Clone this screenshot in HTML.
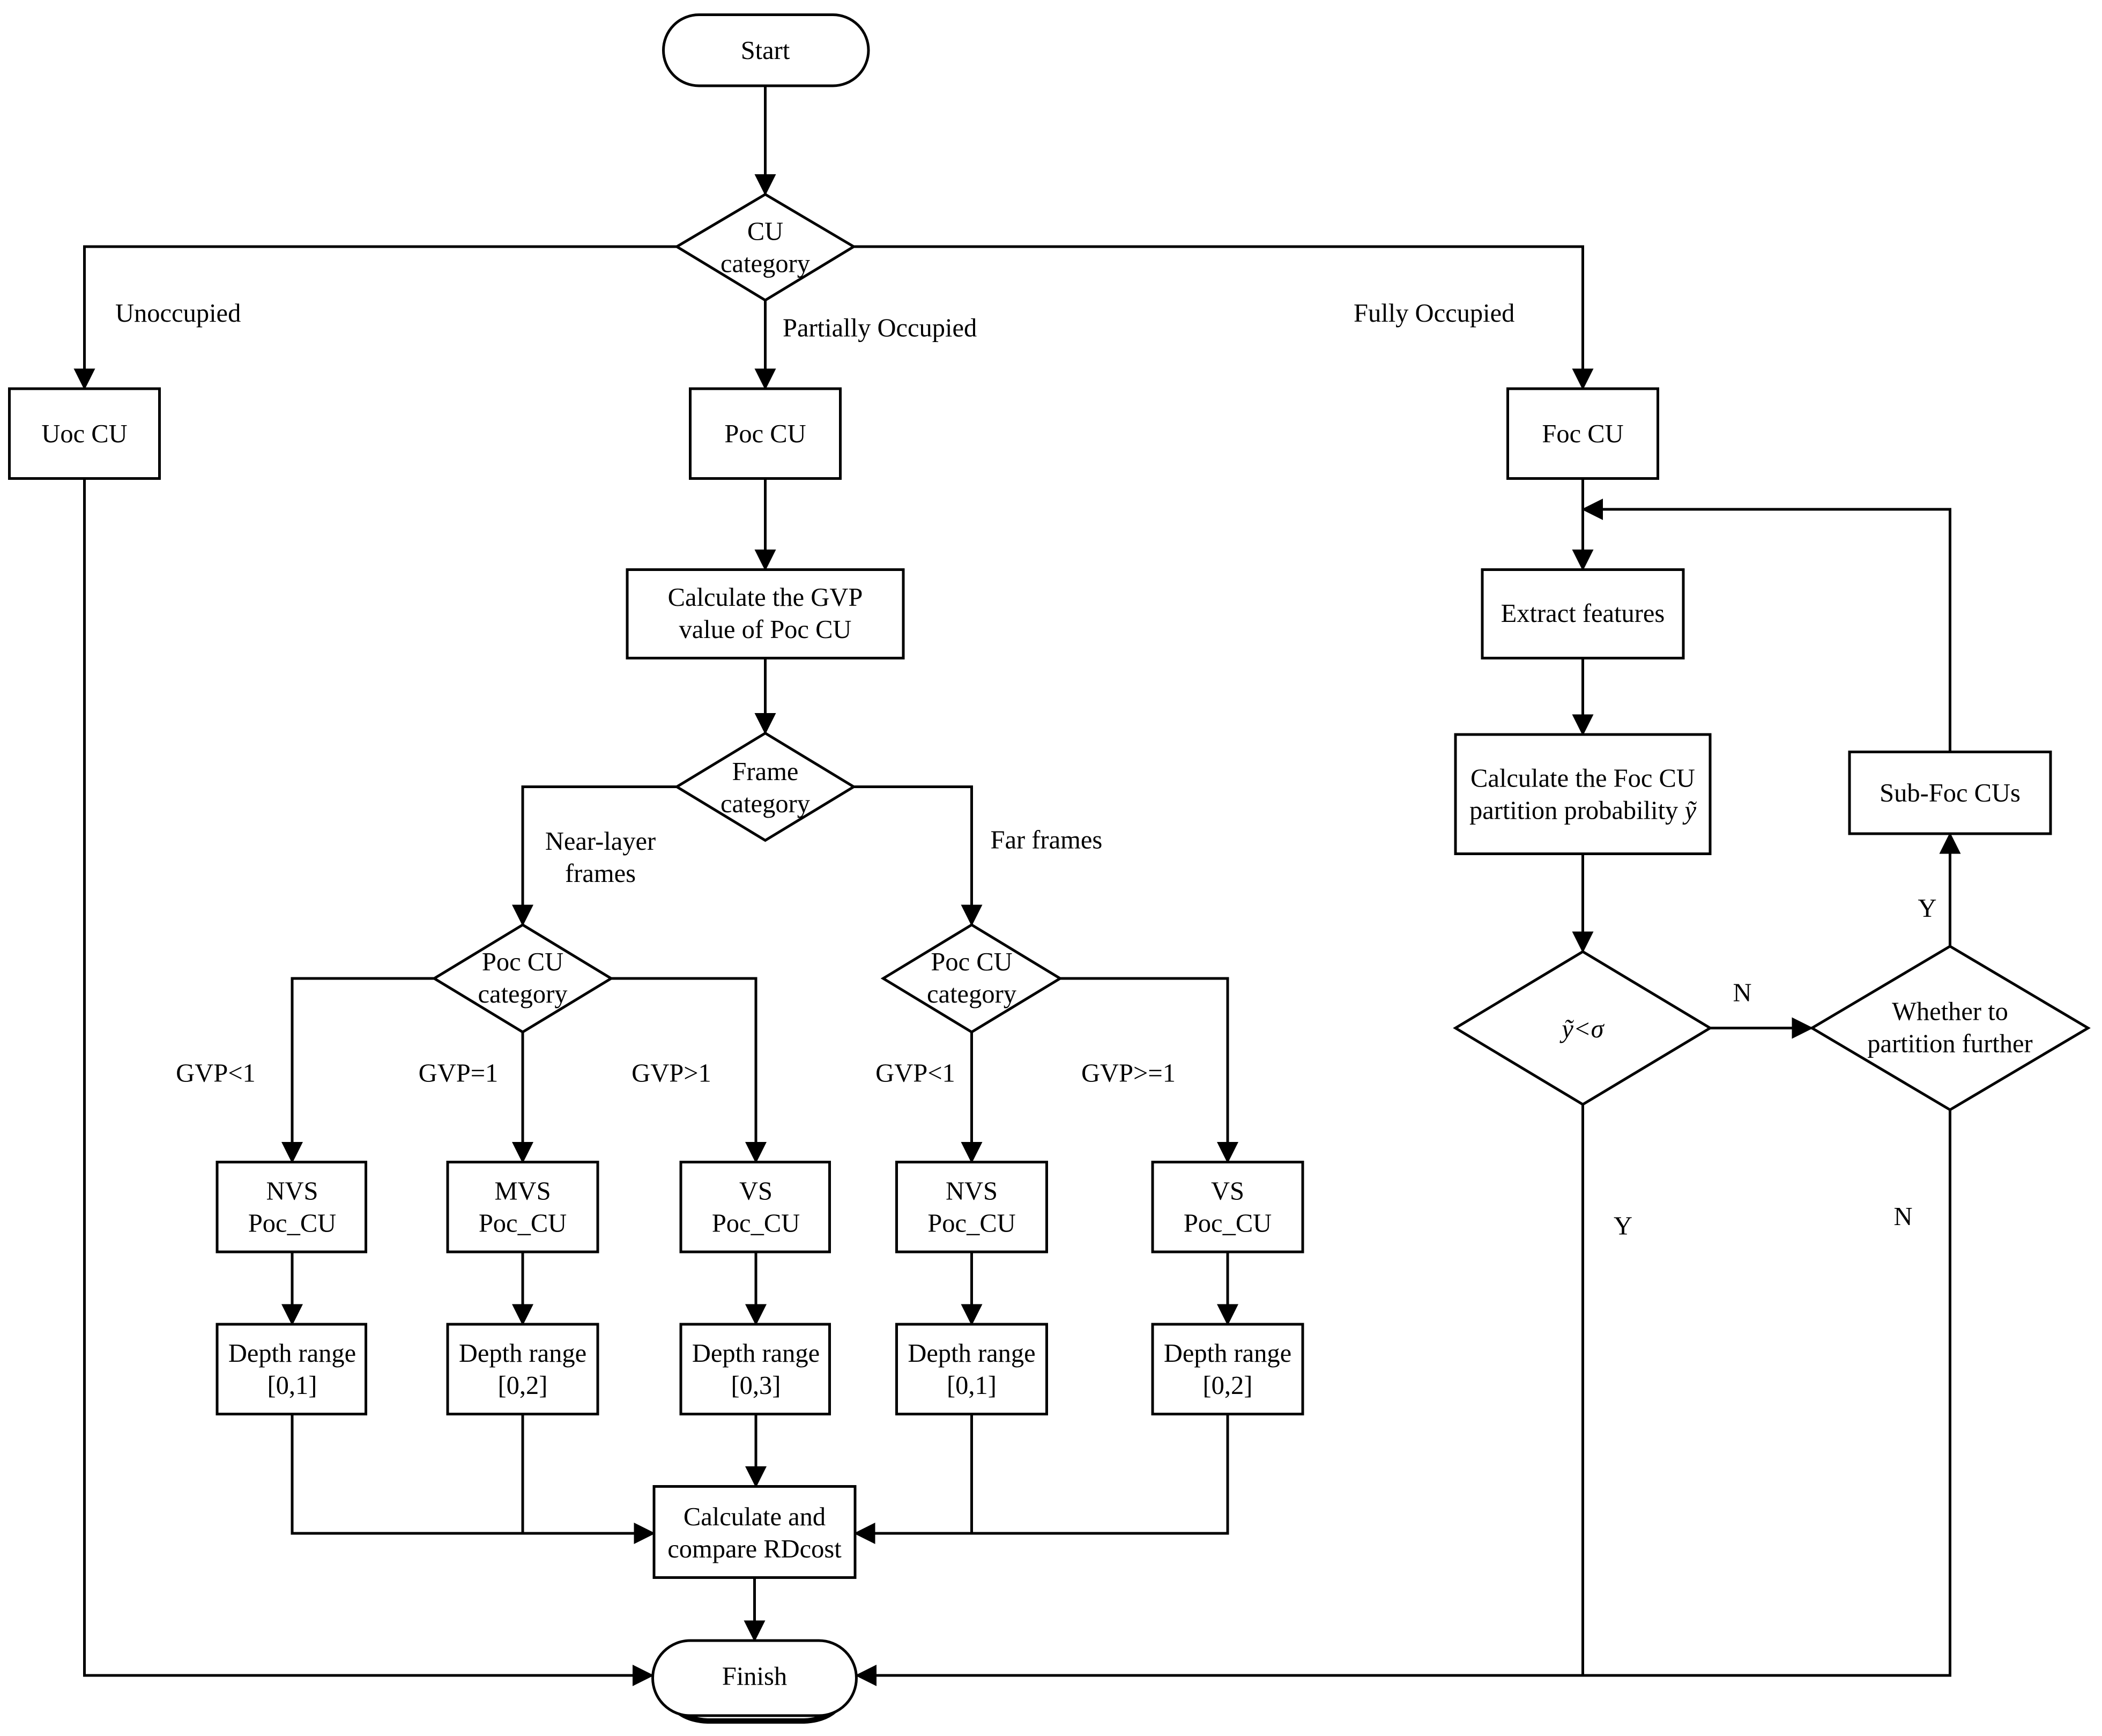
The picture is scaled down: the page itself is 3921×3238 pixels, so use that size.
<!DOCTYPE html>
<html><head><meta charset="utf-8"><style>
html,body{margin:0;padding:0;background:#fff;}
svg{display:block;}
text{font-family:"Liberation Serif",serif;font-size:19.4px;fill:#000;}
</style></head><body>
<svg width="3921" height="3238" viewBox="0 0 1568.4 1295.2" xmlns="http://www.w3.org/2000/svg">
<defs>
<marker id="a" markerWidth="16" markerHeight="16" refX="15" refY="8" orient="auto" markerUnits="userSpaceOnUse">
<path d="M0,0 L16,8 L0,16 Z" fill="#000"/>
</marker>
</defs>
<g fill="none" stroke="#000" stroke-width="2">
<rect x="495" y="11" width="153" height="53" rx="26.5"/>
<path d="M571,145 L637,184 L571,224 L505,184 Z" fill="#fff"/>
<rect x="7" y="290" width="112" height="67"/>
<rect x="515" y="290" width="112" height="67"/>
<rect x="1125" y="290" width="112" height="67"/>
<rect x="468" y="425" width="206" height="66"/>
<path d="M571,547 L637,587 L571,627 L505,587 Z"/>
<path d="M390,690 L456,730 L390,770 L324,730 Z"/>
<path d="M725,690 L791,730 L725,770 L659,730 Z"/>
<rect x="162" y="867" width="111" height="67"/>
<rect x="334" y="867" width="112" height="67"/>
<rect x="508" y="867" width="111" height="67"/>
<rect x="669" y="867" width="112" height="67"/>
<rect x="860" y="867" width="112" height="67"/>
<rect x="162" y="988" width="111" height="67"/>
<rect x="334" y="988" width="112" height="67"/>
<rect x="508" y="988" width="111" height="67"/>
<rect x="669" y="988" width="112" height="67"/>
<rect x="860" y="988" width="112" height="67"/>
<rect x="488" y="1109" width="150" height="68"/>
<path d="M496,1262 Q503,1283 528,1284 L600,1284 Q625,1283 632,1262" stroke-width="4"/>
<rect x="487" y="1224" width="152" height="56" rx="28" fill="#fff"/>
<rect x="1106" y="425" width="150" height="66"/>
<rect x="1086" y="548" width="190" height="89"/>
<path d="M1181,710 L1276,767 L1181,824 L1086,767 Z"/>
<path d="M1455,706 L1558,767 L1455,828 L1352,767 Z"/>
<rect x="1380" y="561" width="150" height="61"/>
<path d="M571,64 V145" marker-end="url(#a)"/>
<path d="M505,184 H63 V290" marker-end="url(#a)"/>
<path d="M571,224 V290" marker-end="url(#a)"/>
<path d="M637,184 H1181 V290" marker-end="url(#a)"/>
<path d="M571,357 V425" marker-end="url(#a)"/>
<path d="M571,491 V547" marker-end="url(#a)"/>
<path d="M505,587 H390 V690" marker-end="url(#a)"/>
<path d="M637,587 H725 V690" marker-end="url(#a)"/>
<path d="M324,730 H218 V867" marker-end="url(#a)"/>
<path d="M390,770 V867" marker-end="url(#a)"/>
<path d="M456,730 H564 V867" marker-end="url(#a)"/>
<path d="M725,770 V867" marker-end="url(#a)"/>
<path d="M791,730 H916 V867" marker-end="url(#a)"/>
<path d="M218,934 V988" marker-end="url(#a)"/>
<path d="M390,934 V988" marker-end="url(#a)"/>
<path d="M564,934 V988" marker-end="url(#a)"/>
<path d="M725,934 V988" marker-end="url(#a)"/>
<path d="M916,934 V988" marker-end="url(#a)"/>
<path d="M218,1055 V1144 H488" marker-end="url(#a)"/>
<path d="M390,1055 V1144"/>
<path d="M564,1055 V1109" marker-end="url(#a)"/>
<path d="M916,1055 V1144 H638" marker-end="url(#a)"/>
<path d="M725,1055 V1144"/>
<path d="M563,1177 V1224" marker-end="url(#a)"/>
<path d="M63,357 V1250 H487" marker-end="url(#a)"/>
<path d="M1181,357 V425" marker-end="url(#a)"/>
<path d="M1181,491 V548" marker-end="url(#a)"/>
<path d="M1181,637 V710" marker-end="url(#a)"/>
<path d="M1276,767 H1352" marker-end="url(#a)"/>
<path d="M1455,706 V622" marker-end="url(#a)"/>
<path d="M1455,561 V380 H1181" marker-end="url(#a)"/>
<path d="M1181,824 V1250"/>
<path d="M1455,828 V1250 H639" marker-end="url(#a)"/>
</g>
<g text-anchor="middle">
<text x="571" y="44">Start</text>
<text x="571" y="179">CU</text>
<text x="571" y="203">category</text>
<text x="63" y="330">Uoc CU</text>
<text x="571" y="330">Poc CU</text>
<text x="1181" y="330">Foc CU</text>
<text x="571" y="452">Calculate the GVP</text>
<text x="571" y="476">value of Poc CU</text>
<text x="571" y="582">Frame</text>
<text x="571" y="606">category</text>
<text x="390" y="724">Poc CU</text>
<text x="390" y="748">category</text>
<text x="725" y="724">Poc CU</text>
<text x="725" y="748">category</text>
<text x="448" y="634">Near-layer</text>
<text x="448" y="658">frames</text>
<text x="161" y="807">GVP&lt;1</text>
<text x="342" y="807">GVP=1</text>
<text x="501" y="807">GVP&gt;1</text>
<text x="683" y="807">GVP&lt;1</text>
<text x="842" y="807">GVP&gt;=1</text>
<text x="218" y="895">NVS</text><text x="218" y="919">Poc_CU</text>
<text x="390" y="895">MVS</text><text x="390" y="919">Poc_CU</text>
<text x="564" y="895">VS</text><text x="564" y="919">Poc_CU</text>
<text x="725" y="895">NVS</text><text x="725" y="919">Poc_CU</text>
<text x="916" y="895">VS</text><text x="916" y="919">Poc_CU</text>
<text x="218" y="1016">Depth range</text><text x="218" y="1040">[0,1]</text>
<text x="390" y="1016">Depth range</text><text x="390" y="1040">[0,2]</text>
<text x="564" y="1016">Depth range</text><text x="564" y="1040">[0,3]</text>
<text x="725" y="1016">Depth range</text><text x="725" y="1040">[0,1]</text>
<text x="916" y="1016">Depth range</text><text x="916" y="1040">[0,2]</text>
<text x="563" y="1138">Calculate and</text>
<text x="563" y="1162">compare RDcost</text>
<text x="563" y="1257">Finish</text>
<text x="1181" y="464">Extract features</text>
<text x="1181" y="587">Calculate the Foc CU</text>
<text x="1181" y="611">partition probability <tspan font-style="italic">ỹ</tspan></text>
<text x="1181" y="774" font-style="italic">ỹ&lt;σ</text>
<text x="1455" y="761">Whether to</text>
<text x="1455" y="785">partition further</text>
<text x="1455" y="598">Sub-Foc CUs</text>
<text x="1300" y="747">N</text>
<text x="1438" y="684">Y</text>
<text x="1211" y="921">Y</text>
<text x="1420" y="914">N</text>
</g>
<text x="86" y="240">Unoccupied</text>
<text x="584" y="251">Partially Occupied</text>
<text x="1010" y="240">Fully Occupied</text>
<text x="739" y="633">Far frames</text>
</svg>
</body></html>
